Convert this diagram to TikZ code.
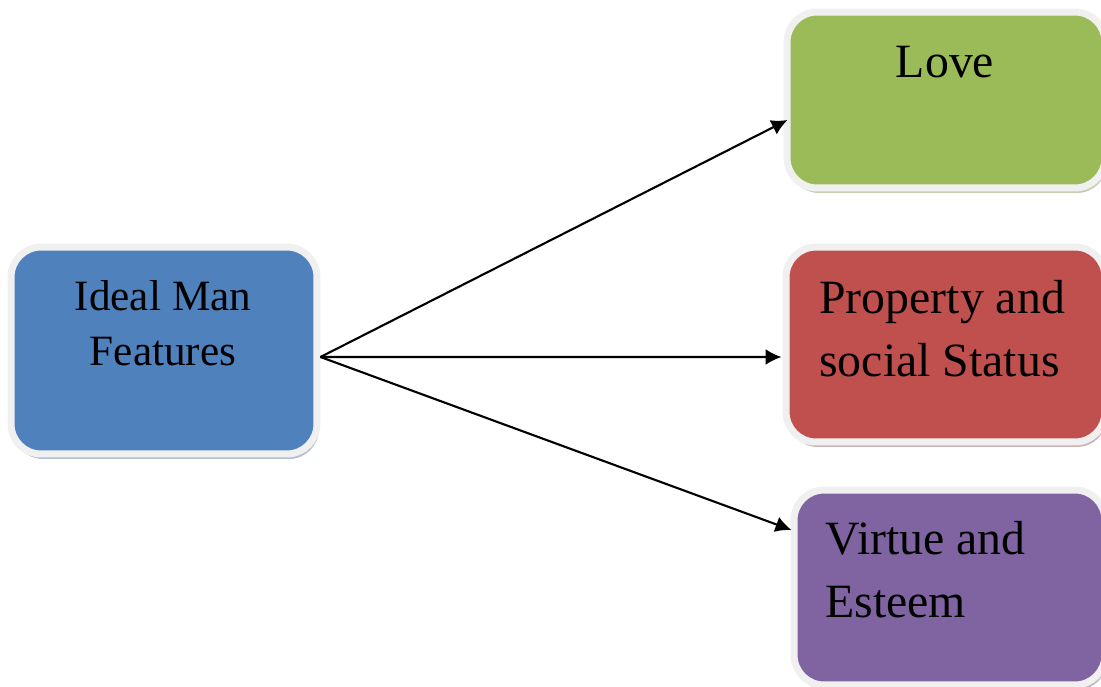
\documentclass[tikz,border=0pt]{standalone}
\usepackage{fontspec}
\setmainfont{Liberation Serif}
\usetikzlibrary{arrows.meta, shadows, positioning}
\definecolor{idealblue}{HTML}{4F81BD}
\definecolor{lovegreen}{HTML}{9BBB59}
\definecolor{statusred}{HTML}{C0504D}
\definecolor{esteempurple}{HTML}{8064A2}
\definecolor{rim}{HTML}{F0F0F0}
\tikzstyle{box} = [rectangle, draw=rim, line width=0.14cm,
    rounded corners=0.6cm, inner sep=0pt]
\tikzstyle{words} = [inner sep=0pt, font=\fontsize{27.2}{36}\selectfont]
\tikzstyle{line} = [draw, line width=1.2pt, -{Latex[length=0.32cm, width=0.32cm]}]

\begin{document}
\begin{tikzpicture}[x=0.02cm, y=-0.02cm]
        \useasboundingbox (0,0) rectangle (1101,686);

        % Boxes
        \node [box, fill=idealblue, minimum width=6.12cm, minimum height=4.14cm,
            drop shadow={fill=idealblue!50!gray, shadow xshift=0.04cm, shadow yshift=-0.1cm}]
            (ideal) at (164,350.5) {};
        \node [box, fill=lovegreen, minimum width=6.36cm, minimum height=3.52cm,
            drop shadow={fill=lovegreen!50!gray, shadow xshift=0.04cm, shadow yshift=-0.1cm}]
            (love) at (946,100) {};
        \node [box, fill=statusred, minimum width=6.38cm, minimum height=3.9cm,
            drop shadow={fill=statusred!50!gray, shadow xshift=0.04cm, shadow yshift=-0.1cm}]
            (status) at (945.5,344.5) {};
        \node [box, fill=esteempurple, minimum width=6.22cm, minimum height=3.9cm,
            drop shadow={fill=esteempurple!50!gray, shadow xshift=0.04cm, shadow yshift=-0.1cm}]
            (esteem) at (949.5,587.5) {};

        % Texts
        \node [words, font=\fontsize{24.6}{31.3}\selectfont, align=center, anchor=north]
            (ideal-t) at (163,280) {Ideal Man\\Features};
        \node [words, anchor=north] (love-t) at (945,46) {Love};
        \node [words, align=left, anchor=north west] (status-t) at (819,280) {Property and\\social Status};
        \node [words, align=left, anchor=north west] (esteem-t) at (825,521) {Virtue and\\Esteem};

        % Lines
        \path [line] ([yshift=-0.13cm]ideal.east) -- ([xshift=0.08cm, yshift=-0.4cm]love.west);
        \path [line] ([yshift=-0.13cm]ideal.east) -- ([xshift=-0.02cm, yshift=-0.25cm]status.west);
        \path [line] ([yshift=-0.13cm]ideal.east) -- ([xshift=0.02cm, yshift=1.15cm]esteem.west);
    \end{tikzpicture}
\end{document}
